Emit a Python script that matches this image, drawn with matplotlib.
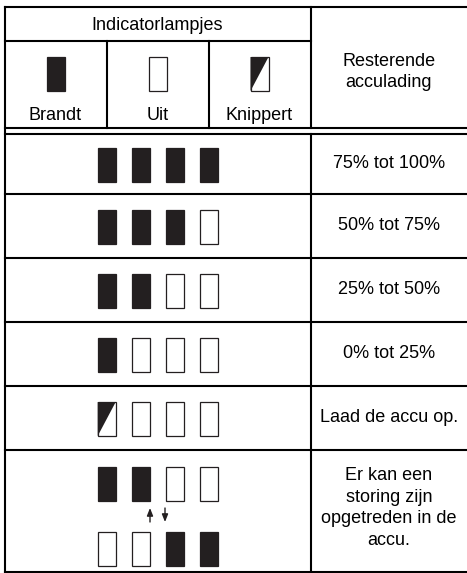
import matplotlib.pyplot as plt
from matplotlib.patches import Rectangle, Polygon

plt.rcParams['font.family'] = ['Liberation Sans', 'DejaVu Sans']

# lamp states: 1 = brandt, 0 = uit, 2 = knippert
legend_states = [1, 0, 2]
legend_labels = ['Brandt', 'Uit', 'Knippert']
row_states = [[1, 1, 1, 1],
              [1, 1, 1, 0],
              [1, 1, 0, 0],
              [1, 0, 0, 0],
              [2, 0, 0, 0]]
row_labels = ['75% tot 100%', '50% tot 75%', '25% tot 50%', '0% tot 25%',
              'Laad de accu op.']
fault_top = [1, 1, 0, 0]
fault_bottom = [0, 0, 1, 1]
fault_label = 'Er kan een\nstoring zijn\nopgetreden in de\naccu.'

dark = '#231f20'
lw = 1.5
fs = 13

fig = plt.figure(figsize=(4.67, 5.73), dpi=100)
ax = fig.add_axes([0, 0, 1, 1])
ax.set_xlim(0, 467)
ax.set_ylim(573, 0)
ax.axis('off')


def lamp(cx, cy, state, w=18, h=34):
    x0, y0 = cx - w / 2, cy - h / 2
    face = dark if state == 1 else 'white'
    ax.add_patch(Rectangle((x0, y0), w, h, facecolor=face, edgecolor=dark, lw=0.9))
    if state == 2:
        ax.add_patch(Polygon([(x0, y0), (x0 + w, y0), (x0, y0 + h)],
                             closed=True, facecolor=dark, edgecolor='none'))


def line(x, y):
    ax.plot(x, y, color='black', lw=lw, solid_capstyle='projecting')


# table grid (right edge runs off the picture)
left, right, mid = 5, 470, 311
top, bottom = 7, 572
row_edges = [134, 194, 258, 322, 386, 450]
line([left, right], [top, top])
line([left, mid], [41, 41])
line([left, right], [128, 128])
for y in row_edges:
    line([left, right], [y, y])
line([left, right], [bottom, bottom])
line([left, left], [top, bottom])
line([mid, mid], [top, 128])
line([mid, mid], [134, bottom])
line([107, 107], [41, 128])
line([209, 209], [41, 128])

# header
ax.text(157, 25, 'Indicatorlampjes', ha='center', va='center', fontsize=fs)
ax.text(389, 72, 'Resterende\nacculading', ha='center', va='center',
        fontsize=fs, linespacing=1.25)
for i, (st, lab) in enumerate(zip(legend_states, legend_labels)):
    cx = 55.5 + i * 102
    lamp(cx, 74, st)
    ax.text(cx, 115, lab, ha='center', va='center', fontsize=fs)

# data rows
lamp_x = [106.7 + 34 * k for k in range(4)]
for r, (states, lab) in enumerate(zip(row_states, row_labels)):
    cy = (row_edges[r] + row_edges[r + 1]) / 2
    for cx, st in zip(lamp_x, states):
        lamp(cx, cy + 1, st)
    ax.text(389, cy, lab, ha='center', va='center', fontsize=fs)

# fault row
for cx, st in zip(lamp_x, fault_top):
    lamp(cx, 484, st)
for cx, st in zip(lamp_x, fault_bottom):
    lamp(cx, 549, st)
arrow = dict(arrowstyle='-|>,head_width=0.18,head_length=0.45', lw=1.0,
             color=dark, shrinkA=0, shrinkB=0)
ax.annotate('', xy=(150, 508), xytext=(150, 522), arrowprops=arrow)
ax.annotate('', xy=(165, 522), xytext=(165, 508), arrowprops=arrow)
ax.text(389, 508, fault_label, ha='center', va='center', fontsize=fs,
        linespacing=1.35)

fig.savefig('out.png', dpi=100)
